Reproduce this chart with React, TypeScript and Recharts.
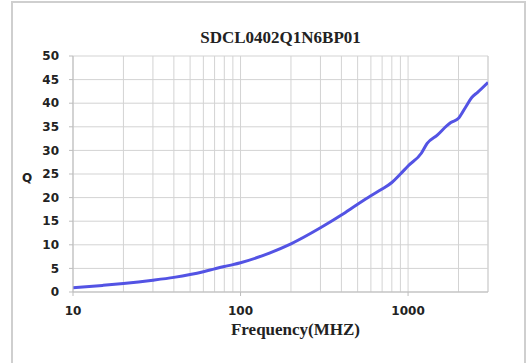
import { LineChart, Line, XAxis, YAxis, CartesianGrid, ReferenceLine } from "recharts";

// Q vs frequency
const freqs = [10, 15, 20, 30, 40, 50, 60, 70, 80, 90, 100, 150, 200, 300, 400, 500, 600, 700, 800, 900, 1000, 1200, 1300, 1500, 1700, 1800, 2000, 2200, 2400, 2600, 3000];
const qValues = [0.9, 1.4, 1.8, 2.5, 3.1, 3.7, 4.3, 4.9, 5.4, 5.8, 6.2, 8.3, 10.2, 13.6, 16.3, 18.6, 20.4, 21.8, 23.2, 25.0, 26.7, 29.4, 31.5, 33.3, 35.2, 35.9, 36.8, 39.1, 41.2, 42.3, 44.4];

const xTicks = [10, 100, 1000];
const minorGrid = [20, 30, 40, 50, 60, 70, 80, 90, 200, 300, 400, 500, 600, 700, 800, 900, 2000, 3000];
const yTicks = [0, 5, 10, 15, 20, 25, 30, 35, 40, 45, 50];

const title = "SDCL0402Q1N6BP01";
const xLabel = "Frequency(MHZ)";
const yLabel = "Q";

const data = freqs.map((f, i) => ({ f, q: qValues[i] }));

const gridColor = "#d3d3d3";
const tickFont = { fontSize: 12, fontFamily: "'DejaVu Sans', sans-serif", fontWeight: 700, fill: "#222" };

export default function App() {
  return (
    <div style={{ position: "absolute", left: 0, top: 0, width: 526, height: 363, overflow: "hidden", background: "#fff" }}>
      {/* outer frame */}
      <div style={{ position: "absolute", left: 11, top: 1, width: 511, height: 400, border: "2px solid #cfcfcf" }} />
      <div style={{ position: "absolute", left: 73, width: 415, top: 28, textAlign: "center", fontFamily: "'Liberation Serif', serif", fontWeight: 700, fontSize: 17, color: "#222" }}>
        {title}
      </div>
      <div style={{ position: "absolute", left: 22, top: 171, fontFamily: "'DejaVu Sans', sans-serif", fontWeight: 700, fontSize: 12, color: "#222" }}>
        {yLabel}
      </div>
      <div style={{ position: "absolute", left: 73, width: 445, top: 320, textAlign: "center", fontFamily: "'Liberation Serif', serif", fontWeight: 700, fontSize: 17, color: "#222" }}>
        {xLabel}
      </div>
      <div style={{ position: "absolute", left: 0, top: 0 }}>
        <LineChart width={526} height={363} data={data} margin={{ top: 56, right: 38, left: 23, bottom: 46 }}>
          <CartesianGrid stroke={gridColor} strokeWidth={1} />
          {minorGrid.map((v) => (
            <ReferenceLine key={v} x={v} stroke={gridColor} strokeWidth={1} />
          ))}
          <XAxis
            dataKey="f"
            type="number"
            scale="log"
            domain={[10, 3000]}
            ticks={xTicks}
            allowDataOverflow
            stroke="#bdbdbd"
            tickSize={4}
            tickMargin={10}
            tick={tickFont}
            height={25}
          />
          <YAxis
            type="number"
            domain={[0, 50]}
            ticks={yTicks}
            stroke="#bdbdbd"
            tickSize={4}
            tickMargin={10}
            tick={tickFont}
            width={50}
          />
          <Line
            type="monotone"
            dataKey="q"
            stroke="#5353e4"
            strokeWidth={3}
            dot={false}
            isAnimationActive={false}
          />
        </LineChart>
      </div>
    </div>
  );
}
